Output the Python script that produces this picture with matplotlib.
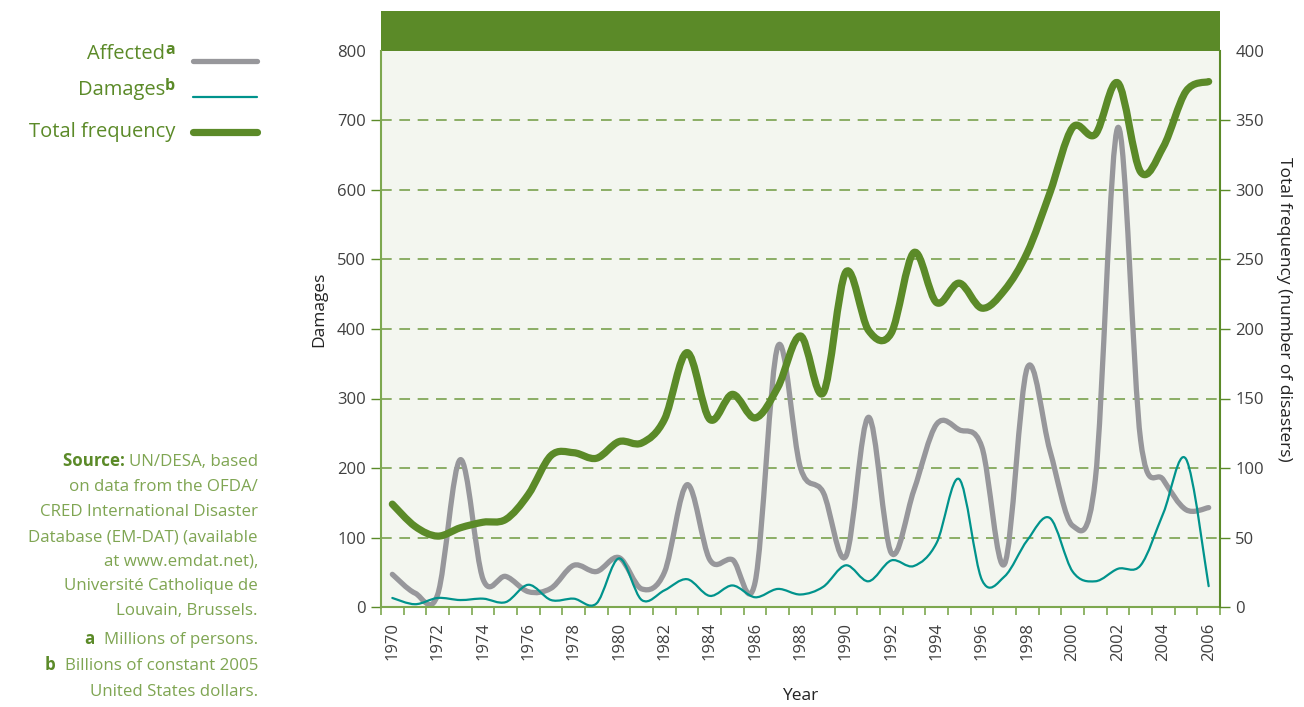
import numpy as np
import matplotlib.pyplot as plt
from matplotlib.path import Path
from matplotlib.patches import PathPatch
from matplotlib.lines import Line2D

plt.rcParams['font.family'] = ['Open Sans', 'DejaVu Sans']

# data
years = list(range(1970, 2007))
# affected (millions of persons), left axis
affected = [47, 20, 18, 212, 40, 44, 22, 27, 60, 51, 71, 26, 50, 176, 68, 68, 36,
            375, 200, 165, 73, 273, 78, 168, 263, 255, 230, 62, 344, 225, 117, 183,
            690, 240, 183, 140, 143]
# damages (billions of 2005 USD), left axis
damages = [13, 4, 13, 10, 12, 7, 32, 10, 12, 5, 70, 10, 24, 40, 16, 31, 14,
           26, 18, 29, 60, 37, 67, 59, 92, 184, 39, 44, 96, 128, 51, 37,
           55, 60, 135, 213, 30]
# total frequency (number of disasters), right axis
frequency = [74, 58, 51, 57, 61, 63, 81, 109, 111, 107, 119, 118, 135, 183, 135, 153, 136,
             158, 195, 154, 241, 199, 197, 255, 219, 233, 215, 228, 255, 298, 345, 340,
             377, 313, 331, 371, 378]

GREEN = '#5b8a28'
LIGHT_GREEN = '#7fa552'
GRAY = '#97979b'
TEAL = '#00938c'
TXT = '#404040'


def smooth_path(xs, ys):
    # Catmull-Rom through the points, drawn as cubic Bezier segments
    pts = np.column_stack([xs, ys]).astype(float)
    n = len(pts)
    verts = [pts[0]]
    codes = [Path.MOVETO]
    for i in range(n - 1):
        p0 = pts[max(i - 1, 0)]
        p1 = pts[i]
        p2 = pts[i + 1]
        p3 = pts[min(i + 2, n - 1)]
        verts += [p1 + (p2 - p0) / 6, p2 - (p3 - p1) / 6, p2]
        codes += [Path.CURVE4] * 3
    return Path(verts, codes)


fig = plt.figure(figsize=(13.04, 7.07), dpi=100)
ax = fig.add_axes([381 / 1304, 1 - 607 / 707, (1220 - 381) / 1304, (607 - 11) / 707])
ax2 = ax.twinx()

top = 800 + 40 / 0.695
ax.set_xlim(1969.5, 2006.5)
ax.set_ylim(0, top)
ax2.set_ylim(0, top / 2)

ax.set_facecolor('#f3f6ef')
ax.axhspan(800, top, color=GREEN, lw=0, zorder=0.5)
for v in range(100, 800, 100):
    ax.axhline(v, color='#6f9a3f', lw=1.1, ls=(0, (7, 5)), zorder=0.6)

ax.add_patch(PathPatch(smooth_path(years, affected), fill=False, ec=GRAY, lw=3.8,
                       capstyle='round', joinstyle='round', zorder=2))
ax.add_patch(PathPatch(smooth_path(years, damages), fill=False, ec=TEAL, lw=1.6,
                       capstyle='round', joinstyle='round', zorder=3))
ax2.add_patch(PathPatch(smooth_path(years, frequency), fill=False, ec=GREEN, lw=5.2,
                        capstyle='round', joinstyle='round', zorder=3))

# axes / spines
for a in (ax, ax2):
    for s in a.spines.values():
        s.set_color('#7da84f')
        s.set_linewidth(1.5)
    a.spines['top'].set_visible(False)
ax.spines['right'].set_visible(False)
ax2.spines['left'].set_visible(False)
ax2.spines['bottom'].set_visible(False)
ax.spines['left'].set_bounds(0, 800)
ax2.spines['right'].set_bounds(0, 400)
ax2.spines['right'].set_color(GREEN)

ax.set_yticks(range(0, 900, 100))
ax.tick_params(axis='y', length=7, width=1, color=GREEN, labelcolor=TXT, labelsize=12, pad=4)
ax.yaxis.get_major_ticks()[-1].tick1line.set_visible(False)
ax2.set_yticks(range(0, 450, 50))
ax2.tick_params(axis='y', length=7, width=1, color=GREEN, labelcolor=TXT, labelsize=12, pad=4)
ax2.yaxis.get_major_ticks()[-1].tick2line.set_visible(False)

ax.set_xticks(range(1970, 2007, 2))
ax.set_xticklabels([str(y) for y in range(1970, 2007, 2)], rotation=90)
ax.set_xticks(np.arange(1969.5, 2007, 1), minor=True)
ax.tick_params(axis='x', which='major', length=0, labelcolor=TXT, labelsize=12, pad=11)
ax.tick_params(axis='x', which='minor', length=6, width=1.2, color='#7da84f')

ax.set_ylabel('Damages', fontsize=12.5, color='#222222', labelpad=7)
ax2.set_ylabel('Total frequency (number of disasters)', fontsize=12.5, color='#222222',
               rotation=270, labelpad=20)
ax.set_xlabel('Year', fontsize=12.5, color='#222222', labelpad=20)

# legend on the left
leg_items = [('Affected', 'a', GRAY, 3.8, 61), ('Damages', 'b', TEAL, 1.6, 97),
             ('Total frequency', None, GREEN, 5.2, 132)]
for name, sup, col, lw, ypix in leg_items:
    yf = 1 - ypix / 707
    fig.add_artist(Line2D([193 / 1304, 257 / 1304], [yf, yf], color=col, lw=lw,
                          solid_capstyle='round', transform=fig.transFigure))
    if sup:
        s = fig.text(175 / 1304, yf + 0.004, sup, ha='right', va='bottom', fontsize=11.5,
                     fontweight='bold', color=GREEN)
        ax.annotate(name, xy=(0, 0), xycoords=s, xytext=(0, -4), textcoords='offset points',
                    ha='right', va='bottom', fontsize=14.5, color=GREEN, annotation_clip=False)
    else:
        fig.text(175 / 1304, yf, name, ha='right', va='center', fontsize=14.5, color=GREEN)

# source notes
src_lines = [('Source: ', 'UN/DESA, based'), (None, 'on data from the OFDA/'),
             (None, 'CRED International Disaster'), (None, 'Database (EM-DAT) (available'),
             (None, 'at www.emdat.net),'), (None, 'Université Catholique de'),
             (None, 'Louvain, Brussels.'), ('a  ', 'Millions of persons.'),
             ('b  ', 'Billions of constant 2005'), (None, 'United States dollars.')]
src_y = [462, 487, 512, 537, 561, 586, 611, 640, 666, 692]
for (bold, rest), ypix in zip(src_lines, src_y):
    t = fig.text(258 / 1304, 1 - ypix / 707, rest, ha='right', va='center', fontsize=12.2,
                 color=LIGHT_GREEN)
    if bold:
        ax.annotate(bold, xy=(0, 0), xycoords=t, ha='right', va='bottom', fontsize=12.2,
                    fontweight='bold', color=GREEN, annotation_clip=False)

fig.savefig('out.png', dpi=100)
